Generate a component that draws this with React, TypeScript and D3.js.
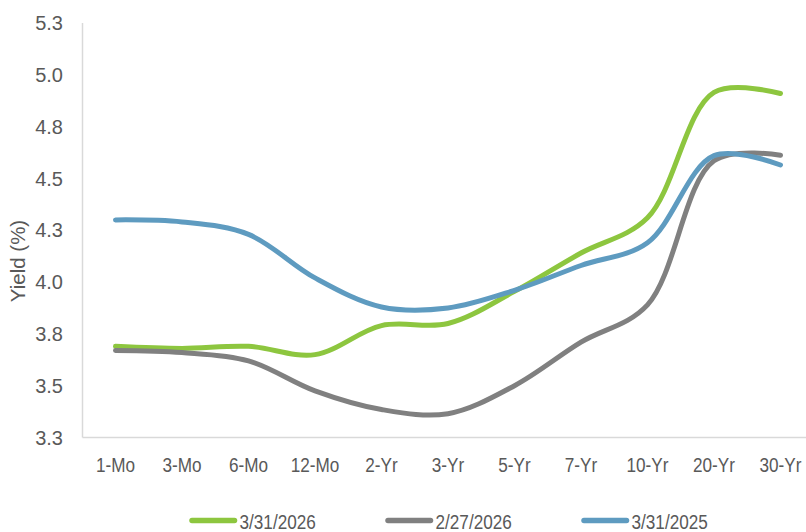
import React from "react";
import * as d3 from "d3";

const categories = ["1-Mo", "3-Mo", "6-Mo", "12-Mo", "2-Yr", "3-Yr", "5-Yr", "7-Yr", "10-Yr", "20-Yr", "30-Yr"];
const series2026Mar = [3.69, 3.68, 3.69, 3.65, 3.79, 3.8, 3.955, 4.14, 4.31, 4.915, 4.91];
const series2026Feb = [3.67, 3.66, 3.62, 3.475, 3.385, 3.365, 3.5, 3.71, 3.89, 4.585, 4.612];
const series2025Mar = [4.3, 4.29, 4.23, 4.02, 3.88, 3.875, 3.96, 4.08, 4.19, 4.61, 4.565];
const seriesNames = ["3/31/2026", "2/27/2026", "3/31/2025"];
const seriesColors = ["#8DC63F", "#808080", "#5E9BC0"];
const yTicks = [3.25, 3.5, 3.75, 4.0, 4.25, 4.5, 4.75, 5.0, 5.25];

const W = 806;
const H = 532;
const FONT = "'Liberation Sans', Arial, sans-serif";
const TEXT = "#595959";
const AXIS = "#D9D9D9";
const SX = 0.88;

export default function App() {
  const allSeries = [series2026Mar, series2026Feb, series2025Mar];
  const x = d3.scalePoint<string>().domain(categories).range([115.5, 780.5]);
  const y = d3.scaleLinear().domain([3.25, 5.25]).range([437.5, 23]);
  const line = d3
    .line<number>()
    .x((_, i) => x(categories[i]) as number)
    .y((d) => y(d))
    .curve(d3.curveCatmullRom.alpha(0.5));

  return (
    <svg width={W} height={H} style={{ position: "absolute", left: 0, top: 0, background: "#fff" }}>
      <rect x={0} y={0} width={W} height={H} fill="#fff" />
      {/* axes */}
      <line x1={82.5} x2={82.5} y1={y(5.25)} y2={437.5} stroke={AXIS} strokeWidth={1.5} />
      <line x1={82.5} x2={W} y1={437.5} y2={437.5} stroke={AXIS} strokeWidth={1.5} />
      {/* y tick labels */}
      {yTicks.map((t) => (
        <text
          key={t}
          x={63}
          y={y(t)}
          dy="0.36em"
          textAnchor="end"
          fontFamily={FONT}
          fontSize={20}
          fill={TEXT}
        >
          {d3.format(".1f")(t)}
        </text>
      ))}
      {/* y title */}
      <text
        transform={`translate(25,261) rotate(-90)`}
        textAnchor="middle"
        fontFamily={FONT}
        fontSize={20.5}
        fill={TEXT}
      >
        Yield (%)
      </text>
      {/* x tick labels */}
      {categories.map((c) => (
        <text
          key={c}
          transform={`translate(${x(c)},472) scale(${SX},1)`}
          textAnchor="middle"
          fontFamily={FONT}
          fontSize={19.5}
          fill={TEXT}
        >
          {c}
        </text>
      ))}
      {/* lines */}
      {allSeries.map((s, i) => (
        <path
          key={seriesNames[i]}
          d={line(s) as string}
          fill="none"
          stroke={seriesColors[i]}
          strokeWidth={5}
          strokeLinecap="round"
          strokeLinejoin="round"
        />
      ))}
      {/* legend */}
      {seriesNames.map((n, i) => {
        const lx = 189.5 + i * 196;
        return (
          <g key={n}>
            <line x1={lx + 2.5} x2={lx + 45} y1={520.5} y2={520.5} stroke={seriesColors[i]} strokeWidth={5.5} strokeLinecap="round" />
            <text
              transform={`translate(${lx + 50},528.5) scale(${SX},1)`}
              fontFamily={FONT}
              fontSize={19.5}
              fill={TEXT}
            >
              {n}
            </text>
          </g>
        );
      })}
    </svg>
  );
}
